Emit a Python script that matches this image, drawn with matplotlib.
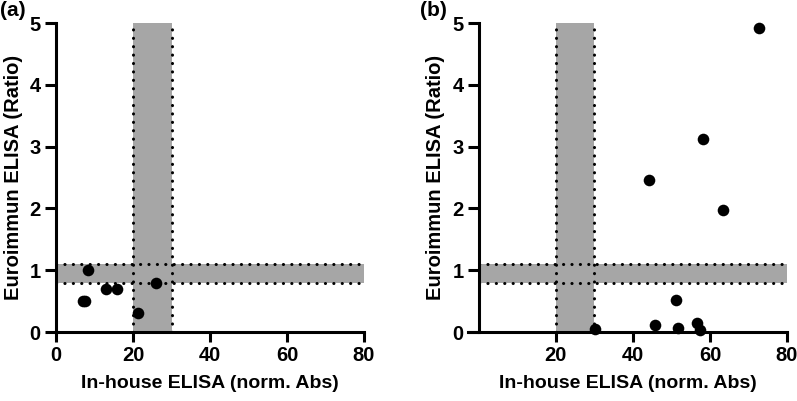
import matplotlib
matplotlib.use('Agg')
import matplotlib.pyplot as plt

plt.rcParams['font.family'] = ['Liberation Sans', 'DejaVu Sans']
plt.rcParams['font.weight'] = 'bold'

# data
a_x = [7.0, 7.6, 8.4, 13.0, 15.9, 21.3, 26.1]
a_y = [0.5, 0.5, 1.0, 0.7, 0.7, 0.3, 0.8]
b_x = [30.2, 45.7, 51.3, 51.7, 56.7, 57.5, 44.1, 58.1, 63.4, 72.8]
b_y = [0.05, 0.12, 0.51, 0.06, 0.15, 0.04, 2.46, 3.13, 1.98, 4.92]

x_band = [20, 30]
y_band = [0.8, 1.1]
x_ticks_a = [0, 20, 40, 60, 80]
x_ticks_b = [20, 40, 60, 80]
y_ticks = [0, 1, 2, 3, 4, 5]
xlabel = 'In-house ELISA (norm. Abs)'
ylabel = 'Euroimmun ELISA (Ratio)'

W, H = 797, 401
fig = plt.figure(figsize=(W / 100, H / 100), dpi=100)

BAND = '#a6a6a6'
dot_kw = dict(color='black', lw=2.2, linestyle=(0, (0.05, 2.7)),
              dash_capstyle='round', zorder=2, clip_on=False)


def panel(rect, xs, ys, xlim, xticks, label, label_x):
    ax = fig.add_axes(rect)
    ax.set_xlim(*xlim)
    ax.set_ylim(0, 5)
    # vertical band
    ax.fill_between(x_band, 0, 5, color=BAND, lw=0, zorder=1)
    # horizontal band
    ax.fill_between([0, 80], y_band[0], y_band[1], color=BAND, lw=0, zorder=1)
    for xv in x_band:
        ax.plot([xv, xv], [0, 5], **dot_kw)
    for yv in y_band:
        ax.plot([0, 80], [yv, yv], **dot_kw)
    ax.scatter(xs, ys, s=70, color='black', zorder=4, clip_on=False, lw=0)
    for s in ['top', 'right']:
        ax.spines[s].set_visible(False)
    for s in ['left', 'bottom']:
        ax.spines[s].set_linewidth(2.2)
    ax.spines['left'].set_position(('data', 0))
    ax.set_xticks(xticks)
    ax.set_yticks(y_ticks)
    ax.tick_params(axis='both', width=2.2, labelsize=14.5, pad=3)
    ax.tick_params(axis='x', length=7)
    ax.tick_params(axis='y', length=8)
    ax.set_xlabel(xlabel, fontsize=14, fontweight='bold', labelpad=7)
    ax.set_ylabel(ylabel, fontsize=14.5, fontweight='bold', labelpad=5)
    fig.text(label_x / W, 1 - 1 / H, label, fontsize=15, fontweight='bold',
             ha='left', va='top')
    return ax


panel([56 / W, 69 / H, 308 / W, 309 / H], a_x, a_y, (0, 80), x_ticks_a, '(a)', 0)
panel([468 / W, 69 / H, 319 / W, 309 / H], b_x, b_y, (-2.8, 80), x_ticks_b, '(b)', 420)

fig.savefig('out.png', dpi=100)
